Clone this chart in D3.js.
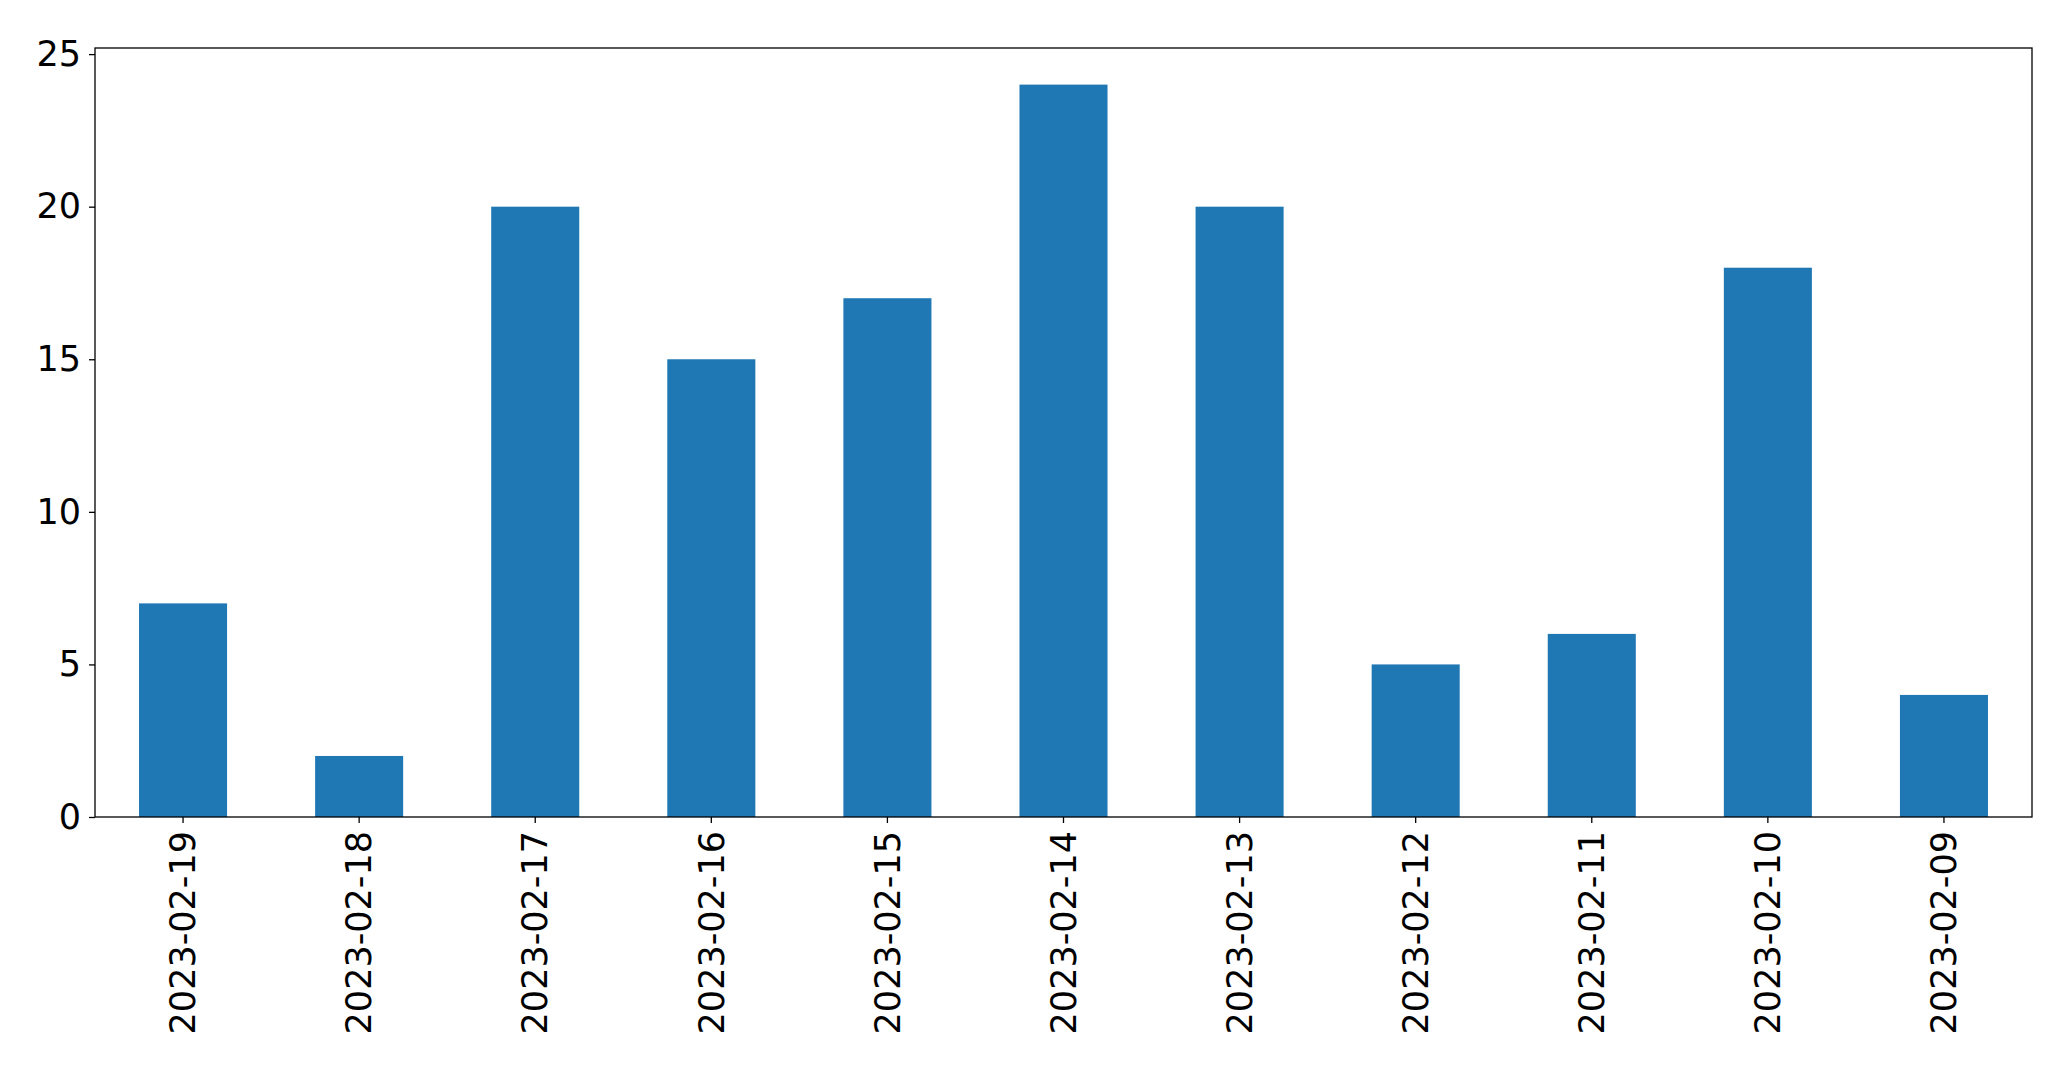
<!DOCTYPE html>
<html>
<head>
<meta charset="utf-8">
<script src="https://cdn.jsdelivr.net/npm/d3@7"></script>
<style>
  html, body { margin: 0; padding: 0; background: #fff; }
  svg { display: block; }
  text { font-family: "DejaVu Sans", sans-serif; fill: #000; }
</style>
</head>
<body>
<svg id="chart" width="2071" height="1069"></svg>
<script>
const categories = ["2023-02-19","2023-02-18","2023-02-17","2023-02-16","2023-02-15","2023-02-14","2023-02-13","2023-02-12","2023-02-11","2023-02-10","2023-02-09"];
const values = [7, 2, 20, 15, 17, 24, 20, 5, 6, 18, 4];
const yTicks = [0, 5, 10, 15, 20, 25];

const W = 2071, H = 1069;
const margin = {left: 95, right: W - 2032, top: 48, bottom: H - 817};
const iw = W - margin.left - margin.right;
const ih = H - margin.top - margin.bottom;
const fontSize = 35;
const color = "#1f77b4";

const svg = d3.select("#chart");
const g = svg.append("g").attr("transform", `translate(${margin.left},${margin.top})`);

const x = d3.scaleBand().domain(categories).range([0, iw]).paddingInner(0.5).paddingOuter(0.25);
const y = d3.scaleLinear().domain([0, 25.2]).range([ih, 0]);

g.selectAll("rect.bar").data(values).enter().append("rect")
  .attr("class", "bar")
  .attr("x", (d, i) => x(categories[i]))
  .attr("width", x.bandwidth())
  .attr("y", d => y(d))
  .attr("height", d => ih - y(d))
  .attr("fill", color);

const yAxis = d3.axisLeft(y).tickValues(yTicks).tickFormat(d3.format("d")).tickSize(6).tickPadding(8);
const ya = g.append("g").call(yAxis);
ya.select(".domain").remove();
ya.selectAll("line").attr("stroke", "#000").attr("stroke-width", 1.3);
ya.selectAll("text").attr("font-size", fontSize).attr("font-family", "DejaVu Sans").attr("fill", "#000");

const xAxis = d3.axisBottom(x).tickSize(6).tickPadding(8);
const xa = g.append("g").attr("transform", `translate(0,${ih})`).call(xAxis);
xa.select(".domain").remove();
xa.selectAll("line").attr("stroke", "#000").attr("stroke-width", 1.3);
xa.selectAll("text")
  .attr("font-size", fontSize)
  .attr("font-family", "DejaVu Sans")
  .attr("fill", "#000")
  .attr("text-anchor", "end")
  .attr("dy", "0.35em")
  .attr("transform", "translate(0,14) rotate(-90)")
  .attr("x", 0)
  .attr("y", 0);

g.append("rect")
  .attr("x", 0).attr("y", 0).attr("width", iw).attr("height", ih)
  .attr("fill", "none").attr("stroke", "#000").attr("stroke-width", 1.3);
</script>
</body>
</html>
